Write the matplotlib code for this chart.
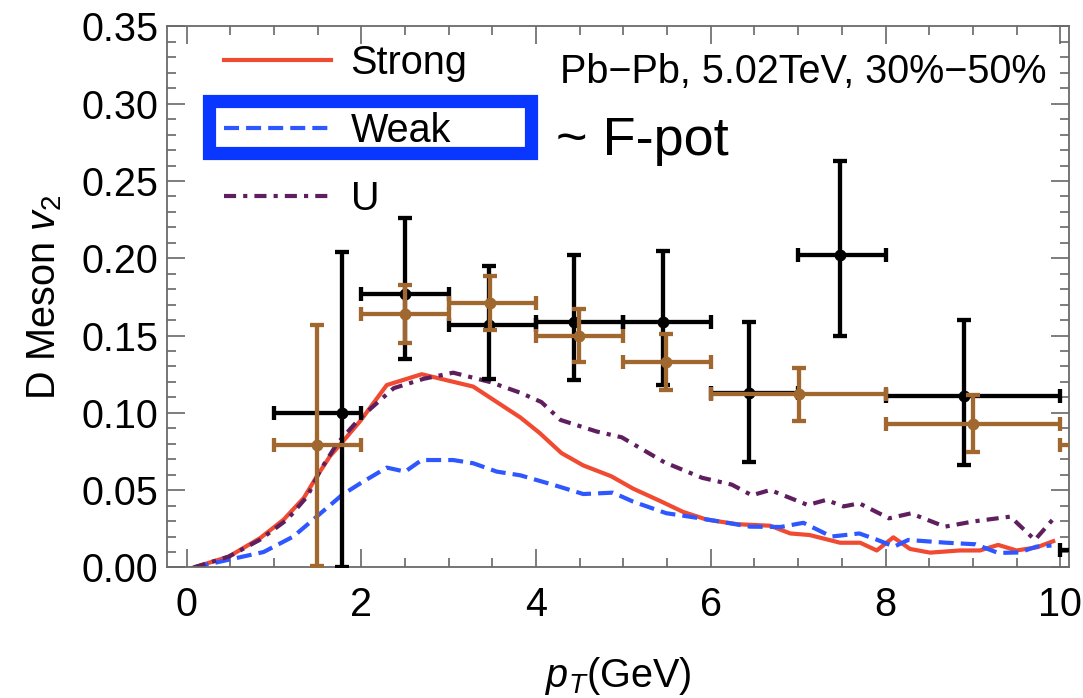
import matplotlib
matplotlib.use("Agg")
import matplotlib.pyplot as plt
from matplotlib.ticker import MultipleLocator, FormatStrFormatter
from matplotlib.patches import Rectangle

plt.rcParams["font.family"] = ["Liberation Sans", "DejaVu Sans"]
plt.rcParams["mathtext.fontset"] = "custom"
plt.rcParams["mathtext.rm"] = "Liberation Sans"
plt.rcParams["mathtext.it"] = "Liberation Sans:italic"

# ---- model curves: D meson v2 vs pT ----
pt_strong = [0.08, 0.48, 0.84, 1.11, 1.34, 1.49, 1.64, 1.78, 1.99, 2.29, 2.69, 3.28,
             3.82, 4.04, 4.29, 4.54, 4.86, 5.11, 5.42, 5.68, 5.95, 6.30, 6.68, 6.91,
             7.13, 7.48, 7.71, 7.90, 8.09, 8.28, 8.51, 8.85, 9.08, 9.29, 9.50, 9.73, 9.92]
v_strong = [0.000, 0.007, 0.019, 0.031, 0.045, 0.059, 0.072, 0.081, 0.095, 0.118, 0.125, 0.117,
            0.097, 0.087, 0.074, 0.066, 0.059, 0.051, 0.043, 0.036, 0.031, 0.028, 0.027, 0.022,
            0.021, 0.016, 0.016, 0.011, 0.0195, 0.012, 0.0096, 0.011, 0.011, 0.0146, 0.011, 0.013, 0.017]

pt_weak = [0.08, 0.48, 0.88, 1.22, 1.49, 1.78, 1.99, 2.29, 2.50, 2.69, 3.05, 3.28, 3.55,
           3.82, 4.20, 4.54, 4.88, 5.11, 5.49, 5.88, 6.45, 6.80, 7.06, 7.38, 7.70, 7.90,
           8.10, 8.26, 8.70, 9.03, 9.29, 9.53, 9.73, 9.90]
v_weak = [0.000, 0.005, 0.010, 0.020, 0.033, 0.047, 0.0545, 0.0646, 0.062, 0.0695, 0.0695, 0.0674, 0.062,
          0.0596, 0.0534, 0.0475, 0.0484, 0.0426, 0.0351, 0.0318, 0.0264, 0.0262, 0.0289, 0.020, 0.022, 0.018,
          0.0135, 0.0178, 0.016, 0.015, 0.0094, 0.0097, 0.0135, 0.0142]

pt_u = [0.08, 0.48, 0.84, 1.15, 1.38, 1.53, 1.72, 1.99, 2.37, 2.71, 3.05, 3.47, 3.82,
        4.06, 4.28, 4.69, 4.98, 5.47, 5.90, 6.24, 6.47, 6.68, 7.11, 7.32, 7.52, 7.70,
        8.04, 8.29, 8.68, 9.01, 9.43, 9.71, 9.91]
v_u = [0.000, 0.007, 0.018, 0.031, 0.046, 0.063, 0.080, 0.097, 0.116, 0.122, 0.126, 0.120, 0.113,
       0.107, 0.0954, 0.088, 0.0842, 0.068, 0.058, 0.0536, 0.0467, 0.0501, 0.0404, 0.0437, 0.0395, 0.0415,
       0.0318, 0.035, 0.0264, 0.0298, 0.0329, 0.0178, 0.0307]

# ---- measured points (bin edges, central value, errors) ----
black_pt = [1.78, 2.50, 3.46, 4.43, 5.45, 6.44, 7.48, 8.90, 11.0]
black_lo = [1, 2, 3, 4, 5, 6, 7, 8, 10]
black_hi = [2, 3, 4, 5, 6, 7, 8, 10, 12]
black_v = [0.100, 0.177, 0.157, 0.159, 0.159, 0.113, 0.202, 0.111, 0.011]
black_up = [0.104, 0.049, 0.038, 0.043, 0.046, 0.046, 0.061, 0.049, 0.030]
black_dn = [0.100, 0.042, 0.035, 0.038, 0.041, 0.045, 0.052, 0.045, 0.030]

brown_pt = [1.49, 2.50, 3.47, 4.49, 5.49, 7.01, 9.00, 11.0]
brown_lo = [1, 2, 3, 4, 5, 6, 8, 10]
brown_hi = [2, 3, 4, 5, 6, 8, 10, 12]
brown_v = [0.079, 0.164, 0.171, 0.150, 0.133, 0.112, 0.093, 0.079]
brown_err = [0.078, 0.019, 0.0175, 0.0173, 0.018, 0.017, 0.0186, 0.020]

x_ticks = [0, 2, 4, 6, 8, 10]

RED = "#f04a32"
BLUE = "#2f57ff"
PURPLE = "#5f1f5f"
BROWN = "#a0682f"
BOX_BLUE = "#0a37ff"
FS = 28.5

fig = plt.figure(figsize=(10.83, 6.98), dpi=100)
ax = fig.add_axes([0.1539, 0.1870, 0.8331, 0.7752])

ax.plot(pt_strong, v_strong, color=RED, lw=3.0, label="Strong", zorder=2)
ax.plot(pt_weak, v_weak, color=BLUE, lw=3.0, dashes=(3.6, 1.7), label="Weak", zorder=2)
ax.plot(pt_u, v_u, color=PURPLE, lw=3.0, dashes=(2.9, 1.7, 1.0, 1.7), label="U", zorder=2)

def draw_points(pt, lo, hi, v, dn, up, color, z):
    xerr = [[p - a for p, a in zip(pt, lo)], [b - p for p, b in zip(pt, hi)]]
    ax.errorbar(pt, v, xerr=xerr, yerr=[dn, up], fmt="o", color=color, ms=7.5,
                elinewidth=3.1, capsize=4.7, capthick=3.1, zorder=z)

draw_points(black_pt, black_lo, black_hi, black_v, black_dn, black_up, "black", 4)
draw_points(brown_pt, brown_lo, brown_hi, brown_v, brown_err, brown_err, BROWN, 5)

ax.set_xlim(-0.23, 10.1)
ax.set_ylim(0, 0.35)
ax.set_xticks(x_ticks)
ax.xaxis.set_minor_locator(MultipleLocator(0.5))
ax.yaxis.set_major_locator(MultipleLocator(0.05))
ax.yaxis.set_minor_locator(MultipleLocator(0.01))
ax.yaxis.set_major_formatter(FormatStrFormatter("%.2f"))

for s in ax.spines.values():
    s.set_color("#6a6a6a")
    s.set_linewidth(1.3)
ax.tick_params(which="both", direction="in", top=True, right=True,
               color="#5a5a5a", width=1.1, labelsize=FS)
ax.tick_params(which="major", length=13)
ax.tick_params(which="minor", length=6.5)
ax.tick_params(axis="x", which="major", pad=13)
ax.tick_params(axis="y", which="major", pad=6)

ax.set_xlabel("$p_T$(GeV)", fontsize=FS)
ax.xaxis.set_label_coords(0.5, -0.162)
ax.set_ylabel("D Meson $v_2$", fontsize=FS)
ax.yaxis.set_label_coords(-0.114, 0.5)

ax.legend(loc="upper left", bbox_to_anchor=(0.0635, 0.968), frameon=False, fontsize=FS,
          handlelength=2.7, handletextpad=0.5, labelspacing=0.76,
          borderpad=0, borderaxespad=0)

ax.text(0.9756, 0.8948, "Pb\u2212Pb, 5.02TeV, 30%\u221250%", transform=ax.transAxes,
        ha="right", va="baseline", fontsize=FS)

ax.add_patch(Rectangle((0.0464, 0.766), 0.3578, 0.096, transform=ax.transAxes,
                       fill=False, edgecolor=BOX_BLUE, linewidth=9.5, clip_on=False, zorder=6))
ax.text(0.431, 0.762, "~ F-pot", transform=ax.transAxes, ha="left", va="baseline",
        fontsize=39, zorder=6)

fig.savefig("out.png", dpi=100)
